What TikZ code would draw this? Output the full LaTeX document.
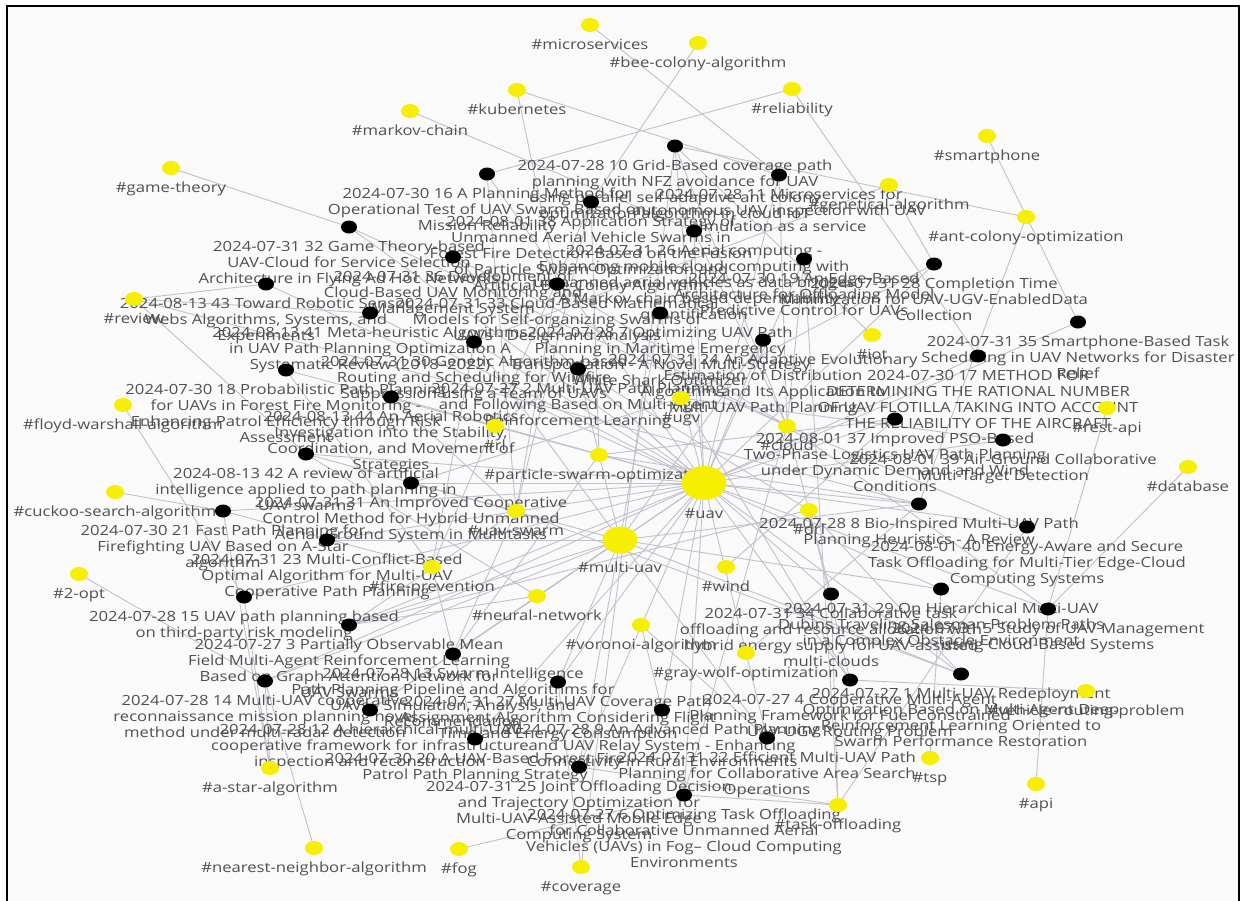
\documentclass[tikz,border=0pt]{standalone}
\usepackage{fontspec}
\setmainfont{Open Sans}[FakeStretch=1.19]
\usetikzlibrary{shapes.geometric}
\definecolor{ylw}{RGB}{246,240,0}
\definecolor{edgec}{RGB}{192,192,206}
\definecolor{txtgray}{RGB}{80,80,80}
\definecolor{bgc}{RGB}{250,250,250}
\pgfdeclarelayer{bg}\pgfdeclarelayer{fg}\pgfsetlayers{bg,main,fg}
\newcommand\pp[4]{\begin{pgfonlayer}{fg}\node[pdot] (#1) at (#2,#3) {};\end{pgfonlayer}\node[lbl] (#1l) at (#2,#3+13) {\strut #4};}
\newcommand\tg[4]{\begin{pgfonlayer}{fg}\node[tdot] (#1) at (#2,#3) {};\end{pgfonlayer}\node[lbl] (#1l) at (#2,#3+13) {\strut\##4};}
\begin{document}
\begin{tikzpicture}[x=1pt,y=-1pt,
 pdot/.style={ellipse,fill=black,minimum width=16pt,minimum height=13pt,inner sep=0pt},
 tdot/.style={ellipse,fill=ylw,minimum width=18pt,minimum height=14pt,inner sep=0pt},
 bigdot/.style={ellipse,fill=ylw,inner sep=0pt},
 lbl/.style={anchor=north,align=center,inner sep=0pt,text=txtgray,font=\fontsize{14}{16}\selectfont},
 lnk/.style={draw=edgec,line width=0.9pt}]
\useasboundingbox (0,0) rectangle (1242,900);
\begin{pgfonlayer}{bg}
\fill[white] (0,0) rectangle (1242,900);
\fill[bgc] (7,6) rectangle (1239,905);
\draw[line width=2.5pt] (7,905) -- (7,6) -- (1239,6) -- (1239,905);
\end{pgfonlayer}
% tags
\tg{tmicro}{590}{25}{microservices}
\tg{tbee}{698}{43}{bee-colony-algorithm}
\tg{tkube}{517}{90}{kubernetes}
\tg{tmarkov}{410}{111}{markov-chain}
\tg{trel}{792}{89}{reliability}
\tg{tsmart}{987}{136}{smartphone}
\tg{tgame}{171}{168}{game-theory}
\tg{tgen}{889}{185}{genetical-algorithm}
\tg{taco}{1026}{217}{ant-colony-optimization}
\tg{treview}{134}{299}{review}
\tg{tiot}{872}{335}{iot}
\tg{tugv}{681}{398}{ugv}
\tg{tcloud}{787}{426}{cloud}
\tg{trl}{495}{426}{rl}
\tg{tfloyd}{123}{405}{floyd-warshall-algorithm}
\tg{trest}{1107}{408}{rest-api}
\tg{tpso}{599}{455}{particle-swarm-optimization}
\tg{tdb}{1188}{467}{database}
\tg{tcuckoo}{115}{492}{cuckoo-search-algorithm}
\tg{tdrl}{809}{510}{drl}
\tg{tswarm}{516}{511}{uav-swarm}
\tg{tfire}{432}{567}{fire-prevention}
\tg{ttwoopt}{79}{574}{2-opt}
\tg{twind}{726}{567}{wind}
\tg{tnn}{537}{596}{neural-network}
\tg{tvor}{641}{625}{voronoi-algorithm}
\tg{tgwo}{746}{653}{gray-wolf-optimization}
\tg{tvrp}{1086}{691}{vehicle-routing-problem}
\tg{tastar}{270}{768}{a-star-algorithm}
\tg{ttsp}{930}{758}{tsp}
\tg{tapi}{1036}{784}{api}
\tg{ttask}{838}{805}{task-offloading}
\tg{tnear}{314}{848}{nearest-neighbor-algorithm}
\tg{tfog}{459}{849}{fog}
\tg{tcov}{581}{867}{coverage}
\begin{pgfonlayer}{fg}
\node[bigdot,minimum width=45pt,minimum height=34pt] (tuav) at (704,483) {};
\node[bigdot,minimum width=35pt,minimum height=27pt] (tmulti) at (620,540) {};
\end{pgfonlayer}
\node[lbl] (tuavl) at (704,507) {\strut\#uav};
\node[lbl] (tmultil) at (620,561) {\strut\#multi-uav};
% papers
\pp{p10}{675}{146}{2024-07-28 10 Grid-Based coverage path\\planning with NFZ avoidance for UAV\\using parallel self-adaptive ant colony\\optimization algorithm in cloud IoT}
\pp{p16}{487}{174}{2024-07-30 16 A Planning Method for\\Operational Test of UAV Swarm Based on\\Mission Reliability}
\pp{p11}{779}{175}{2024-07-28 11 Microservices for\\autonomous UAV inspection with UAV\\simulation as a service}
\pp{p38}{591}{202}{2024-08-01 38 Application Strategy of\\Unmanned Aerial Vehicle Swarms in\\Forest Fire Detection Based on the Fusion\\of Particle Swarm Optimization and\\Artificial Bee Colony Algorithm}
\pp{p32}{349}{227}{2024-07-31 32 Game Theory-based\\UAV-Cloud for Service Selection\\Architecture in Flying Ad Hoc Networks}
\pp{p26}{694}{231}{2024-07-31 26 Aerial computing -\\Enhancing mobile cloud computing with\\unmanned aerial vehicles as data bridges\\- A Markov chain based dependability\\quantification}
\pp{p19}{804}{259}{2024-07-30 19 An Edge-Based\\Architecture for Offloading Model\\Predictive Control for UAVs}
\pp{p28}{934}{264}{2024-07-31 28 Completion Time\\Minimization for UAV-UGV-EnabledData\\Collection}
\pp{p43}{266}{284}{2024-08-13 43 Toward Robotic Sensor\\Webs Algorithms, Systems, and\\Experiments}
\pp{p36}{453}{257}{2024-07-31 36 Development of\\Cloud-Based UAV Monitoring and\\Management System}
\pp{p33}{557}{284}{2024-07-31 33 Cloud-Based Mathematical\\Models for Self-organizing Swarms of\\UAVs - Design and Analysis}
\pp{p41}{370}{313}{2024-08-13 41 Meta-heuristic Algorithms\\in UAV Path Planning Optimization A\\Systematic Review (2018–2022)}
\pp{p7}{660}{313}{2024-07-28 7 Optimizing UAV Path\\Planning in Maritime Emergency\\Transportation - A Novel Multi-Strategy\\White Shark Optimizer}
\pp{p35}{1078}{322}{2024-07-31 35 Smartphone-Based Task\\Scheduling in UAV Networks for Disaster\\Relief}
\pp{p30}{474}{342}{2024-07-31 30 Genetic Algorithm-based\\Routing and Scheduling for Wildfire\\Suppression using a Team of UAVs}
\pp{p24}{763}{340}{2024-07-31 24 An Adaptive Evolutionary\\Estimation of Distribution\\Algorithm and Its Application to\\Multi-UAV Path Planning}
\pp{p18}{286}{370}{2024-07-30 18 Probabilistic Path Planning\\for UAVs in Forest Fire Monitoring -\\Enhancing Patrol Efficiency through Risk\\Assessment}
\pp{p2}{578}{369}{2024-07-27 2 Multi-UAV Path Planning\\and Following Based on Multi-Agent\\Reinforcement Learning}
\pp{p17}{978}{356}{2024-07-30 17 METHOD FOR\\DETERMINING THE RATIONAL NUMBER\\OF UAV FLOTILLA TAKING INTO ACCOUNT\\THE RELIABILITY OF THE AIRCRAFT}
\pp{p44}{391}{397}{2024-08-13 44 An Aerial Robotics\\Investigation into the Stability,\\Coordination, and Movement of\\Strategies}
\pp{p37}{895}{419}{2024-08-01 37 Improved PSO-Based\\Two-Phase Logistics UAV Path Planning\\under Dynamic Demand and Wind\\Conditions}
\pp{p39}{1003}{440}{2024-08-01 39 Air-Ground Collaborative\\Multi-Target Detection}
\pp{p42}{306}{454}{2024-08-13 42 A review of artificial\\intelligence applied to path planning in\\UAV swarms}
\pp{p31}{411}{483}{2024-07-31 31 An Improved Cooperative\\Control Method for Hybrid Unmanned\\Aerial-Ground System in Multitasks}
\pp{p8}{919}{504}{2024-07-28 8 Bio-Inspired Multi-UAV Path\\Planning Heuristics - A Review}
\pp{p21}{223}{511}{2024-07-30 21 Fast Path Planning for\\Firefighting UAV Based on A-Star\\algorithm}
\pp{p40}{1027}{527}{2024-08-01 40 Energy-Aware and Secure\\Task Offloading for Multi-Tier Edge-Cloud\\Computing Systems}
\pp{p23}{327}{540}{2024-07-31 23 Multi-Conflict-Based\\Optimal Algorithm for Multi-UAV\\Cooperative Path Planning}
\pp{p29}{941}{589}{2024-07-31 29 On Hierarchical Multi-UAV\\Dubins Traveling Salesman Problem Paths\\in a Complex Obstacle Environment}
\pp{p34}{831}{594}{2024-07-31 34 Collaborative task\\offloading and resource allocation with\\hybrid energy supply for UAV-assisted\\multi-clouds}
\pp{p15}{244}{597}{2024-07-28 15 UAV path planning based\\on third-party risk modeling}
\pp{p5}{1048}{609}{2024-07-31 5 Study of UAV Management\\using Cloud-Based Systems}
\pp{p3}{349}{625}{2024-07-27 3 Partially Observable Mean\\Field Multi-Agent Reinforcement Learning\\Based on Graph Attention Network for\\UAV Swarms}
\pp{p13}{453}{654}{2024-07-28 13 Swarm Intelligence\\Path Planning Pipeline and Algorithms for\\UAVs - Simulation, Analysis, and\\Recommendation}
\pp{p1}{961}{674}{2024-07-27 1 Multi-UAV Redeployment\\Optimization Based on Multi-Agent Deep\\Reinforcement Learning Oriented to\\Swarm Performance Restoration}
\pp{p4}{850}{680}{2024-07-27 4 Cooperative Multi-Agent\\Planning Framework for Fuel Constrained\\UAV-UGV Routing Problem}
\pp{p14}{265}{681}{2024-07-28 14 Multi-UAV cooperative\\reconnaissance mission planning novel\\method under multi-radar detection}
\pp{p27}{558}{682}{2024-07-31 27 Multi-UAV Coverage Path\\Assignment Algorithm Considering Flight\\Time and Energy Consumption}
\pp{p12}{370}{710}{2024-07-28 12 A hierarchical multi-UAV\\cooperative framework for infrastructure\\inspection and reconstruction}
\pp{p9}{662}{710}{2024-07-28 9 An Advanced Path Planning\\and UAV Relay System - Enhancing\\Connectivity in Rural Environments}
\pp{p22}{767}{738}{2024-07-31 22 Efficient Multi-UAV Path\\Planning for Collaborative Area Search\\Operations}
\pp{p20}{475}{739}{2024-07-30 20 A UAV-Based Forest Fire\\Patrol Path Planning Strategy}
\pp{p25}{579}{767}{2024-07-31 25 Joint Offloading Decision\\and Trajectory Optimization for\\Multi-UAV-Assisted Mobile Edge\\Computing System}
\pp{p6}{684}{795}{2024-07-27 6 Optimizing Task Offloading\\for Collaborative Unmanned Aerial\\Vehicles (UAVs) in Fog– Cloud Computing\\Environments}
% connectors
\begin{pgfonlayer}{bg}
\foreach \a/\b in {p1/tmulti,p1/tdrl,p1/tswarm,p1/tuav,p2/tmulti,p2/tdrl,p2/trl,p2/tuav,p3/tswarm,p3/tdrl,p3/tnn,p3/tmulti,p3/tuav,
 p4/tugv,p4/tvrp,p4/tdrl,p4/tuav,p5/tcloud,p5/tapi,p5/trest,p5/tdb,p5/tuav,p6/tfog,p6/tcloud,p6/ttask,p6/tuav,
 p7/tuav,p7/tmulti,p8/treview,p8/tmulti,p8/taco,p8/tpso,p8/tgwo,p8/tuav,p9/tuav,p9/tvor,p10/tcov,p10/taco,p10/tcloud,p10/tiot,p10/tuav,
 p11/tmicro,p11/tkube,p11/tcloud,p11/tuav,p12/tmulti,p12/tuav,p13/tswarm,p13/tpso,p13/tmulti,p13/tuav,p14/tmulti,p14/ttwoopt,p14/tnear,p14/tastar,p14/tuav,
 p15/tuav,p15/tastar,p15/tfloyd,p16/tswarm,p16/trel,p16/tuav,p17/trel,p17/tuav,p18/tfire,p18/tuav,p19/ttask,p19/tcloud,p19/tuav,
 p20/tfire,p20/tuav,p21/tastar,p21/tcuckoo,p21/tfire,p21/tuav,p22/tmulti,p22/tvor,p22/tuav,p23/tmulti,p23/tuav,p24/tmulti,p24/tuav,p25/tmulti,p25/ttask,p25/tuav,
 p26/tmarkov,p26/tcloud,p26/tuav,p27/tmulti,p27/tcov,p27/tuav,p28/tugv,p28/tuav,p28/tgen,p29/ttsp,p29/tmulti,p29/tuav,p30/tgen,p30/tfire,p30/tmulti,p30/tuav,
 p31/tugv,p31/tmulti,p31/tuav,p32/tgame,p32/tcloud,p32/tuav,p33/tcloud,p33/tswarm,p33/tkube,p34/ttask,p34/tcloud,p34/tuav,p35/tsmart,p35/tuav,
 p36/tcloud,p36/tuav,p37/tpso,p37/twind,p37/tuav,p38/tbee,p38/tpso,p38/tswarm,p38/tfire,p39/tugv,p39/tuav,p40/ttask,p40/tcloud,p40/tuav,
 p41/treview,p41/tuav,p42/treview,p42/tswarm,p42/tnn,p42/tuav,p43/treview,p43/tuav,p44/tswarm,p44/tuav}
 {\draw[lnk] (\a.center) -- (\b.center);}
\end{pgfonlayer}
\end{tikzpicture}
\end{document}
